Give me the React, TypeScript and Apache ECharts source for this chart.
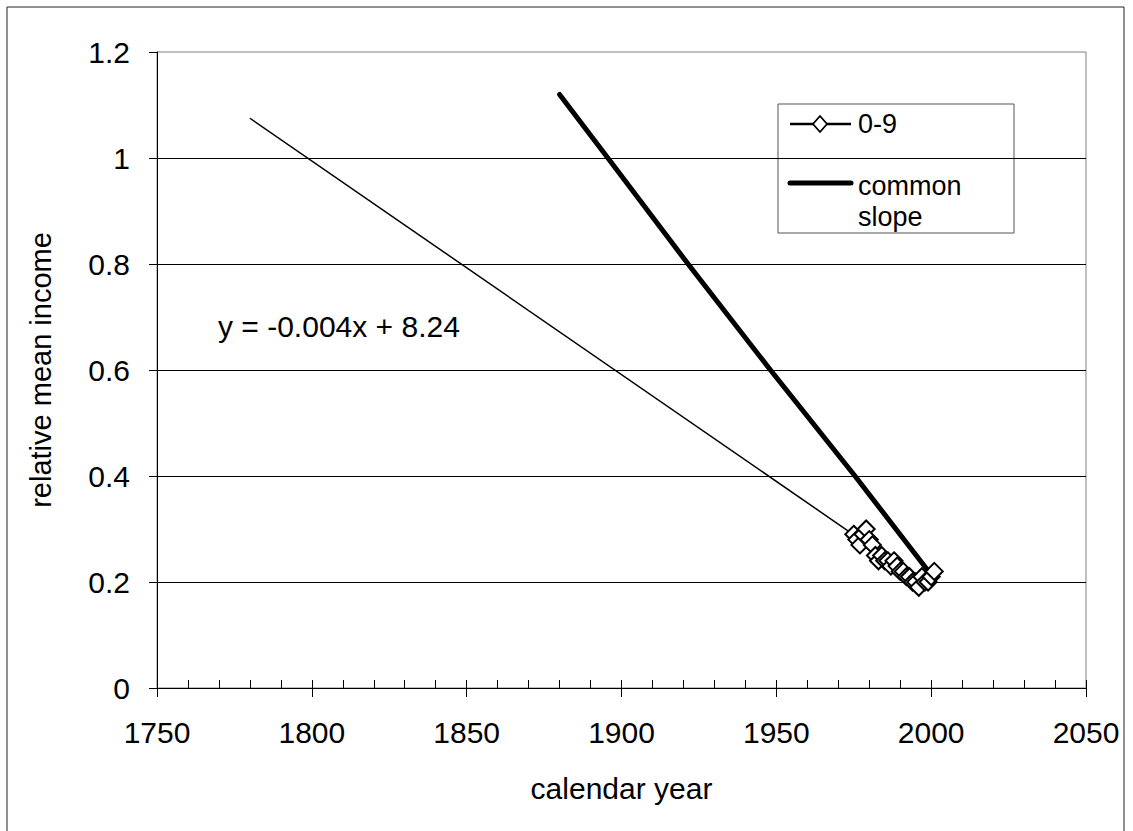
import React, { useEffect, useRef } from "react";
import * as echarts from "echarts";

// ---- data ----
const years09 = [1975, 1976, 1977, 1978, 1979, 1980, 1981, 1982, 1983, 1984, 1985, 1986, 1987, 1988, 1989, 1990, 1991, 1992, 1993, 1994, 1995, 1996, 1997, 1998, 1999, 2000, 2001];
const values09 = [0.29, 0.28, 0.27, 0.29, 0.30, 0.28, 0.27, 0.25, 0.24, 0.25, 0.24, 0.24, 0.23, 0.24, 0.23, 0.22, 0.22, 0.21, 0.21, 0.20, 0.20, 0.19, 0.21, 0.20, 0.20, 0.21, 0.22];

const trendYears = [1780, 1975];
const trendValues = [1.075, 0.289];

const commonYears = [1880, 1895.6, 1921.5, 1948.1, 1975.4, 1998.5];
const commonValues = [1.12, 1.0, 0.8, 0.6, 0.4, 0.225];

const seriesNames = ["0-9", "common\nslope"];
const equationText = "y = -0.004x + 8.24";
const xAxisTitle = "calendar year";
const yAxisTitle = "relative mean income";

const FONT = "'Liberation Sans', Arial, sans-serif";

export default function App() {
  const ref = useRef<HTMLDivElement>(null);

  useEffect(() => {
    if (!ref.current) return;
    const chart = echarts.init(ref.current, undefined, { renderer: "svg" });

    const pts09 = years09.map((y, i) => [y, values09[i]]);
    const ptsTrend = trendYears.map((y, i) => [y, trendValues[i]]);
    const ptsCommon = commonYears.map((y, i) => [y, commonValues[i]]);

    const option = {
      animation: false,
      backgroundColor: "#ffffff",
      textStyle: { fontFamily: FONT, color: "#000" },
      grid: {
        left: 157,
        top: 52,
        right: 47,
        bottom: 143,
        show: true,
        borderColor: "#808080",
        borderWidth: 1,
        backgroundColor: "transparent",
      },
      xAxis: [
        {
          type: "value",
          position: "bottom",
          min: 1750,
          max: 2050,
          interval: 10,
          axisLine: { show: true, lineStyle: { color: "#000", width: 1 } },
          axisTick: { show: true, inside: true, length: 8, lineStyle: { color: "#000" } },
          axisLabel: { show: false },
          splitLine: { show: false },
        },
        {
          type: "value",
          position: "bottom",
          min: 1750,
          max: 2050,
          interval: 50,
          axisLine: { show: true, lineStyle: { color: "#000", width: 1 } },
          axisTick: { show: true, inside: false, length: 9, lineStyle: { color: "#000" } },
          axisLabel: {
            show: true,
            fontSize: 30,
            color: "#000",
            fontFamily: FONT,
            margin: 29,
            formatter: (v: number) => String(v),
          },
          splitLine: { show: false },
          name: xAxisTitle,
          nameLocation: "middle",
          nameGap: 85,
          nameTextStyle: { fontSize: 30, color: "#000", fontFamily: FONT },
        },
      ],
      yAxis: {
        type: "value",
        min: 0,
        max: 1.2,
        interval: 0.2,
        axisLine: { show: true, lineStyle: { color: "#000", width: 1 } },
        axisTick: { show: true, inside: false, length: 8, lineStyle: { color: "#000" } },
        axisLabel: {
          fontSize: 30,
          color: "#000",
          fontFamily: FONT,
          margin: 27,
          formatter: (v: number) => String(Math.round(v * 10) / 10),
        },
        splitLine: { show: true, showMaxLine: false, lineStyle: { color: "#000", width: 1 } },
        name: yAxisTitle,
        nameLocation: "middle",
        nameGap: 102,
        nameRotate: 90,
        nameTextStyle: { fontSize: 29, color: "#000", fontFamily: FONT },
      },
      series: [
        {
          name: "trend",
          type: "line",
          xAxisIndex: 1,
          data: ptsTrend,
          showSymbol: false,
          symbol: "none",
          lineStyle: { color: "#000", width: 1.5 },
          silent: true,
          z: 2,
        },
        {
          name: seriesNames[0],
          type: "line",
          xAxisIndex: 1,
          data: pts09,
          symbol: "diamond",
          symbolSize: 17,
          showAllSymbol: true,
          lineStyle: { color: "#000", width: 2 },
          itemStyle: { color: "#fff", borderColor: "#000", borderWidth: 2 },
          z: 3,
        },
        {
          name: seriesNames[1],
          type: "line",
          xAxisIndex: 1,
          data: ptsCommon,
          symbol: "none",
          lineStyle: { color: "#000", width: 5, cap: "round", join: "round" },
          z: 4,
        },
      ],
      graphic: [
        {
          type: "rect",
          shape: { x: 7, y: 7, width: 1117, height: 840 },
          style: { fill: "none", stroke: "#222", lineWidth: 1 },
          silent: true,
          z: 0,
        },
        {
          type: "text",
          left: 218,
          top: 311,
          style: { text: equationText, fontSize: 30, fill: "#000", fontFamily: FONT },
          z: 10,
        },
        {
          type: "group",
          z: 20,
          children: [
            {
              type: "rect",
              shape: { x: 778, y: 104, width: 236, height: 129 },
              style: { fill: "#fff", stroke: "#555", lineWidth: 1 },
            },
            {
              type: "line",
              shape: { x1: 790, y1: 124, x2: 851, y2: 124 },
              style: { stroke: "#000", lineWidth: 2.5 },
            },
            {
              type: "polygon",
              shape: { points: [[820, 116], [827, 124], [820, 132], [813, 124]] },
              style: { fill: "#fff", stroke: "#000", lineWidth: 1.8 },
            },
            {
              type: "text",
              x: 858,
              y: 124,
              style: { text: seriesNames[0], fontSize: 27, fill: "#000", fontFamily: FONT, verticalAlign: "middle" },
            },
            {
              type: "line",
              shape: { x1: 790, y1: 183, x2: 851, y2: 183 },
              style: { stroke: "#000", lineWidth: 5, lineCap: "round" },
            },
            {
              type: "text",
              x: 858,
              y: 170,
              style: { text: seriesNames[1], fontSize: 27, fill: "#000", fontFamily: FONT, lineHeight: 31 },
            },
          ],
        },
      ],
    };

    chart.setOption(option as any);
    return () => chart.dispose();
  }, []);

  return (
    <div
      ref={ref}
      style={{ position: "fixed", left: 0, top: 0, width: 1133, height: 831, background: "#fff" }}
    />
  );
}
